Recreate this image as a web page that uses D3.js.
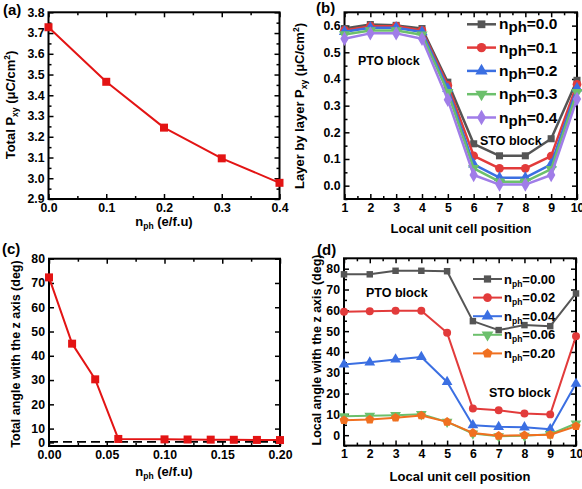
<!DOCTYPE html>
<html>
<head>
<meta charset="utf-8">
<script src="https://cdn.jsdelivr.net/npm/d3@7"></script>
<style>
body { margin: 0; background: #fff; }
text { font-family: "Liberation Sans", Arial, sans-serif; font-weight: bold; fill: #000; }
</style>
</head>
<body>
<div id="chart"></div>
<script>
const W = 582, H = 489;

// (a) total polarisation vs n_ph
const aNph = [0, 0.1, 0.2, 0.3, 0.4];
const aTotalP = [3.728, 3.465, 3.244, 3.096, 2.978];

// (b) layer by layer polarisation
const cellPos = [1, 2, 3, 4, 5, 6, 7, 8, 9, 10];
const bNames = ['0.0', '0.1', '0.2', '0.3', '0.4'];
const bP00 = [0.589, 0.604, 0.601, 0.589, 0.388, 0.157, 0.112, 0.112, 0.176, 0.395];
const bP01 = [0.582, 0.598, 0.598, 0.582, 0.376, 0.112, 0.065, 0.065, 0.111, 0.380];
const bP02 = [0.577, 0.592, 0.592, 0.576, 0.363, 0.080, 0.030, 0.030, 0.080, 0.365];
const bP03 = [0.567, 0.582, 0.582, 0.566, 0.350, 0.065, 0.015, 0.015, 0.062, 0.350];
const bP04 = [0.551, 0.571, 0.571, 0.551, 0.322, 0.040, 0.004, 0.004, 0.040, 0.325];

// (c) total angle vs n_ph
const cNph = [0, 0.02, 0.04, 0.06, 0.10, 0.12, 0.14, 0.16, 0.18, 0.20];
const cAngle = [72.3, 45.0, 30.3, 2.5, 2.2, 2.1, 2.0, 1.9, 1.8, 1.7];
const cDashLevel = 0.4;

// (d) local angle
const dNames = ['0.00', '0.02', '0.04', '0.06', '0.20'];
const dA000 = [77.3, 77.3, 79.0, 79.0, 78.8, 54.8, 50.5, 52.9, 52.4, 68.1];
const dA002 = [59.3, 59.6, 59.8, 59.8, 49.2, 12.8, 12.0, 10.4, 10.0, 47.6];
const dA004 = [34.0, 35.0, 36.4, 37.6, 25.6, 4.8, 4.0, 3.8, 2.9, 24.8];
const dA006 = [9.1, 9.3, 9.6, 10.1, 6.4, 0.8, -0.5, -0.3, 0.5, 5.6];
const dA020 = [7.2, 7.5, 8.4, 9.5, 6.4, 1.1, -0.3, 0.0, 0.2, 4.3];

const gray = '#555555', red = '#e23b3b', blue = '#3b6fe2', green = '#6cc06c',
      purple = '#a07de8', orange = '#f07020', brightRed = '#e31414';

const svg = d3.select('#chart').append('svg').attr('width', W).attr('height', H);

const pentagon = {
    draw(ctx, size) {
        const r = Math.sqrt(size / 2.4);
        for (let i = 0; i < 5; i++) {
            const a = -Math.PI / 2 + i * 2 * Math.PI / 5;
            if (i === 0) ctx.moveTo(r * Math.cos(a), r * Math.sin(a));
            else ctx.lineTo(r * Math.cos(a), r * Math.sin(a));
        }
        ctx.closePath();
    }
};

const drawFrame = (x, y, xMajor, xMinor, yMajor, yMinor, xFmt, yFmt) => {
    const g = svg.append('g');
    const [xl, xr] = d3.extent(x.range());
    const [yt, yb] = d3.extent(y.range());
    const put = (axis, tx, ty) => g.append('g').attr('transform', `translate(${tx},${ty})`).call(axis);
    put(d3.axisBottom(x).tickValues(xMajor).tickFormat(xFmt).tickSizeInner(-5).tickSizeOuter(0).tickPadding(4), 0, yb);
    put(d3.axisBottom(x).tickValues(xMinor).tickFormat('').tickSizeInner(-3).tickSizeOuter(0), 0, yb);
    put(d3.axisTop(x).tickValues(xMajor).tickFormat('').tickSizeInner(-5).tickSizeOuter(0), 0, yt);
    put(d3.axisTop(x).tickValues(xMinor).tickFormat('').tickSizeInner(-3).tickSizeOuter(0), 0, yt);
    put(d3.axisLeft(y).tickValues(yMajor).tickFormat(yFmt).tickSizeInner(-5).tickSizeOuter(0).tickPadding(4), xl, 0);
    put(d3.axisLeft(y).tickValues(yMinor).tickFormat('').tickSizeInner(-3).tickSizeOuter(0), xl, 0);
    put(d3.axisRight(y).tickValues(yMajor).tickFormat('').tickSizeInner(-5).tickSizeOuter(0), xr, 0);
    put(d3.axisRight(y).tickValues(yMinor).tickFormat('').tickSizeInner(-3).tickSizeOuter(0), xr, 0);
    g.selectAll('.domain').remove();
    g.selectAll('.tick line').attr('stroke', '#000').attr('stroke-width', 1.5);
    g.selectAll('g').attr('font-family', null).attr('font-size', null);
    g.selectAll('.tick text').attr('font-size', 12.3).attr('fill', '#000');
    g.append('rect').attr('x', xl).attr('y', yt).attr('width', xr - xl).attr('height', yb - yt)
        .attr('fill', 'none').attr('stroke', '#000').attr('stroke-width', 2);
};

const drawSeries = (x, y, xs, ys, color, width, shape, size, rot) => {
    const pts = xs.map((v, i) => [x(v), y(ys[i])]);
    svg.append('path').attr('d', d3.line()(pts)).attr('fill', 'none')
        .attr('stroke', color).attr('stroke-width', width).attr('stroke-linejoin', 'round');
    svg.append('g').selectAll('path').data(pts).join('path')
        .attr('d', d3.symbol().type(shape).size(size))
        .attr('transform', d => `translate(${d[0]},${d[1]}) rotate(${rot || 0})`)
        .attr('fill', color);
};

const subText = (g, main, sub, rest, fs, subFs, dy) => {
    const t = g.append('text').attr('font-size', fs);
    t.append('tspan').text(main);
    t.append('tspan').attr('font-size', subFs).attr('dy', dy).text(sub);
    t.append('tspan').attr('dy', -dy).text(rest);
    return t;
};

const xTitle = (cx, cy) => {
    const t = svg.append('text').attr('x', cx).attr('y', cy).attr('text-anchor', 'middle').attr('font-size', 13);
    t.append('tspan').text('n');
    t.append('tspan').attr('font-size', 8.5).attr('dy', 3).text('ph');
    t.append('tspan').attr('dy', -3).text(' (e/f.u)');
};

const yTitleP = (cx, cy, label) => {
    const t = svg.append('text').attr('transform', `translate(${cx},${cy}) rotate(-90)`)
        .attr('text-anchor', 'middle').attr('font-size', 13);
    t.append('tspan').text(label + 'P');
    t.append('tspan').attr('font-size', 8.5).attr('dy', 3).text('xy');
    t.append('tspan').attr('dy', -3).text(' (\u03bcC/cm');
    t.append('tspan').attr('font-size', 8.5).attr('dy', -5).text('2');
    t.append('tspan').attr('dy', 5).text(')');
};

const plainText = (x, y, s, fs, anchor, rot) => svg.append('text')
    .attr('transform', `translate(${x},${y}) rotate(${rot || 0})`)
    .attr('text-anchor', anchor || 'start').attr('font-size', fs).text(s);

const range = (a, b, step) => d3.range(Math.round((b - a) / step) + 1).map(i => +(a + i * step).toFixed(4));

// ---------- (a)
const xa = d3.scaleLinear().domain([0, 0.4]).range([48.5, 279.5]);
const ya = d3.scaleLinear().domain([2.9, 3.8]).range([199, 12.3]);
drawFrame(xa, ya, range(0, 0.4, 0.1), range(0.05, 0.35, 0.1), range(2.9, 3.8, 0.1), range(2.95, 3.75, 0.1),
    d3.format('.1f'), d3.format('.1f'));
drawSeries(xa, ya, aNph, aTotalP, brightRed, 2, d3.symbolSquare, 64);
xTitle(164, 226);
yTitleP(15, 105, 'Total ');
plainText(3, 15, '(a)', 15);

// ---------- (b)
const xb = d3.scaleLinear().domain([1, 10]).range([344.5, 577]);
const yb = d3.scaleLinear().domain([-0.05, 0.65]).range([199, 12.3]);
drawFrame(xb, yb, range(1, 10, 1), range(1.5, 9.5, 1), range(0, 0.6, 0.1), range(-0.05, 0.65, 0.1),
    d3.format('d'), d3.format('.1f'));
const bSeries = [
    [bP00, gray, d3.symbolSquare, 50, 0],
    [bP01, red, d3.symbolCircle, 60, 0],
    [bP02, blue, d3.symbolTriangle, 55, 0],
    [bP03, green, d3.symbolTriangle, 55, 180],
    [bP04, purple, d3.symbolDiamond, 60, 0]
];
bSeries.forEach(s => drawSeries(xb, yb, cellPos, s[0], s[1], 2.5, s[2], s[3], s[4]));
bSeries.forEach((s, i) => {
    const ly = 24.3 + i * 23.3;
    svg.append('line').attr('x1', 467).attr('x2', 496).attr('y1', ly).attr('y2', ly)
        .attr('stroke', s[1]).attr('stroke-width', 2.5);
    svg.append('path').attr('d', d3.symbol().type(s[2]).size(s[3] + 10)())
        .attr('transform', `translate(481.5,${ly}) rotate(${s[4]})`).attr('fill', s[1]);
    subText(svg.append('g').attr('transform', `translate(499,${ly + 5})`), 'n', 'ph', '=' + bNames[i], 15.5, 15, 3);
});
plainText(358, 64.5, 'PTO block', 12.5);
plainText(480, 144.5, 'STO block', 12.5);
plainText(461, 233, 'Local unit cell position', 13, 'middle');
yTitleP(304, 106, 'Layer by layer ');
plainText(316, 13, '(b)', 15);

// ---------- (c)
const xc = d3.scaleLinear().domain([0, 0.2]).range([49, 280]);
const yc = d3.scaleLinear().domain([-2.4, 0, 10, 80]).range([446, 442.4, 428.6, 258.7]);
drawFrame(xc, yc, range(0, 0.2, 0.05), range(0.025, 0.175, 0.05), range(0, 80, 10), [],
    d3.format('.2f'), d3.format('d'));
svg.append('line').attr('x1', xc(0)).attr('x2', xc(0.2)).attr('y1', yc(cDashLevel)).attr('y2', yc(cDashLevel))
    .attr('stroke', '#000').attr('stroke-width', 1.6).attr('stroke-dasharray', '9,5');
drawSeries(xc, yc, cNph, cAngle, brightRed, 2, d3.symbolSquare, 64);
xTitle(164, 476);
plainText(20, 354, 'Total angle with the z axis (deg)', 12.5, 'middle', -90);
plainText(2, 254, '(c)', 15);

// ---------- (d)
const xd = d3.scaleLinear().domain([1, 10]).range([344, 576]);
const yd = d3.scaleLinear().domain([-5, 85]).range([445.6, 258.3]);
drawFrame(xd, yd, range(1, 10, 1), range(1.5, 9.5, 1), range(0, 80, 10), range(-5, 85, 10),
    d3.format('d'), d3.format('d'));
const dSeries = [
    [dA000, gray, d3.symbolSquare, 42, 0],
    [dA002, red, d3.symbolCircle, 50, 0],
    [dA004, blue, d3.symbolTriangle, 50, 0],
    [dA006, green, d3.symbolTriangle, 50, 180],
    [dA020, orange, pentagon, 55, 0]
];
dSeries.forEach(s => drawSeries(xd, yd, cellPos, s[0], s[1], 2, s[2], s[3], s[4]));
dSeries.forEach((s, i) => {
    const ly = 279 + i * 18.6;
    svg.append('line').attr('x1', 473).attr('x2', 502).attr('y1', ly).attr('y2', ly)
        .attr('stroke', s[1]).attr('stroke-width', 2);
    svg.append('path').attr('d', d3.symbol().type(s[2]).size(s[3] + 10)())
        .attr('transform', `translate(487.5,${ly}) rotate(${s[4]})`).attr('fill', s[1]);
    subText(svg.append('g').attr('transform', `translate(504,${ly + 4.5})`), 'n', 'ph', '=' + dNames[i], 13, 8.5, 3);
});
plainText(366, 296.5, 'PTO block', 12.5);
plainText(489, 396.5, 'STO block', 12.5);
plainText(460, 481, 'Local unit cell position', 13, 'middle');
plainText(321, 350, 'Local angle with the z axis (deg)', 12.5, 'middle', -90);
plainText(317, 255, '(d)', 15);
</script>
</body>
</html>
